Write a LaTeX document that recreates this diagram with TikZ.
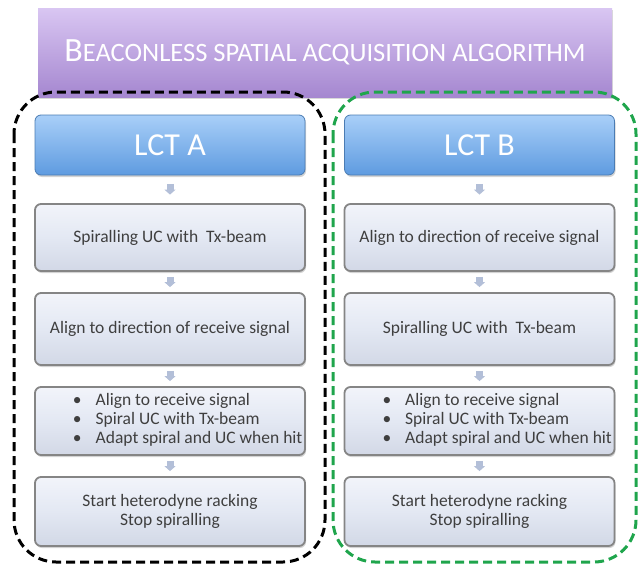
\documentclass[tikz,border=0pt]{standalone}
\usepackage{fontspec}
\setmainfont{Carlito}
\usetikzlibrary{arrows.meta,shadows}
\definecolor{txt}{HTML}{3F3F3F}
\definecolor{boxedge}{HTML}{858585}
\definecolor{arr}{HTML}{B3BFD8}
\definecolor{grn}{HTML}{1FA54C}
\definecolor{ptop}{HTML}{D9C6F2}
\definecolor{pbot}{HTML}{A587D0}
\definecolor{btop}{HTML}{A9CFF8}
\definecolor{bbot}{HTML}{5E9BE0}
\definecolor{gtop}{HTML}{F2F4FA}
\definecolor{gmid}{HTML}{E3E8F3}
\definecolor{gbot}{HTML}{D2D8E6}
\newcommand{\bulletlist}{\makebox[250pt][l]{\hspace*{28pt}\begin{tabular}{@{}l@{\hspace{14pt}}l@{}}\textbullet & Align to receive signal\\[0pt] \textbullet & Spiral UC with Tx-beam\\[0pt] \textbullet & Adapt spiral and UC when hit\end{tabular}}}
\tikzset{
  stepbox/.style={draw=boxedge, line width=1.8pt, rounded corners=6pt,
    top color=gtop, bottom color=gbot, middle color=gmid,
    drop shadow={shadow xshift=1pt, shadow yshift=-2pt, opacity=0.35},
    minimum width=270pt, text=txt, font=\fontsize{17.5}{19}\selectfont, align=center},
  lctbox/.style={draw=bbot!80!black, line width=0.8pt, rounded corners=6pt,
    top color=btop, bottom color=bbot,
    drop shadow={shadow xshift=1pt, shadow yshift=-2pt, opacity=0.35},
    minimum width=270pt, minimum height=60pt, text=white, font=\fontsize{32}{36}\selectfont},
  flow/.style={draw=arr, line width=7pt, -{Triangle[width=11pt,length=5pt]}, shorten <=#1, shorten >=#1},
  flow/.default=5pt,
  group/.style={line width=3pt, dash pattern=on 9pt off 5pt, rounded corners=42pt}
}
\begin{document}
\begin{tikzpicture}[x=1pt,y=-1pt]
\useasboundingbox (0,0) rectangle (638,565);
% title
\node[draw=none, top color=ptop, bottom color=pbot,
  minimum width=574pt, minimum height=89pt, text=white,
  drop shadow={shadow xshift=1pt, shadow yshift=-2pt, opacity=0.3}]
  (title) at (325,52.5) {{\fontsize{34}{38}\selectfont B}{\fontsize{26.5}{38}\selectfont EACONLESS SPATIAL ACQUISITION ALGORITHM}};
% groups
\draw[group] (14,92) rectangle (325,562);
\draw[group, draw=grn] (333,92) rectangle (636,562);
% left column
\node[lctbox] (la) at (170,145) {LCT A};
\node[stepbox, minimum height=67pt] (l1) at (170,237.5) {Spiralling UC with\ \ Tx-beam};
\node[stepbox, minimum height=72pt] (l2) at (170,329) {Align to direction of receive signal};
\node[stepbox, minimum height=68pt] (l3) at (170,421) {\bulletlist};
\node[stepbox, minimum height=69pt] (l4) at (170,511.5) {Start heterodyne racking\\Stop spiralling};
% right column
\node[lctbox] (ra) at (479.5,145) {LCT B};
\node[stepbox, minimum height=67pt] (r1) at (479.5,237.5) {Align to direction of receive signal};
\node[stepbox, minimum height=72pt] (r2) at (479.5,329) {Spiralling UC with\ \ Tx-beam};
\node[stepbox, minimum height=68pt] (r3) at (479.5,421) {\bulletlist};
\node[stepbox, minimum height=69pt] (r4) at (479.5,511.5) {Start heterodyne racking\\Stop spiralling};
% connectors
\draw[flow=8.5pt] (la) -- (l1);
\draw[flow] (l1) -- (l2);
\draw[flow] (l2) -- (l3);
\draw[flow] (l3) -- (l4);
\draw[flow=8.5pt] (ra) -- (r1);
\draw[flow] (r1) -- (r2);
\draw[flow] (r2) -- (r3);
\draw[flow] (r3) -- (r4);
\end{tikzpicture}
\end{document}
